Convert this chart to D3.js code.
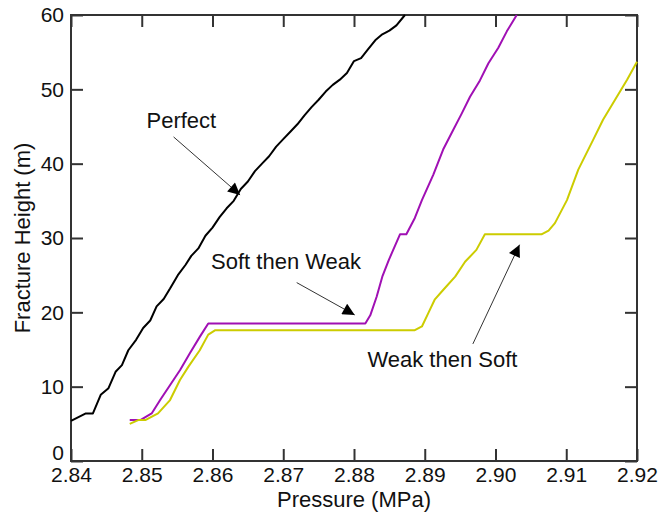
<!DOCTYPE html>
<html>
<head>
<meta charset="utf-8">
<script src="https://cdn.jsdelivr.net/npm/d3@7"></script>
<style>
  body { margin: 0; background: #fff; }
  text { font-family: Arial, "Liberation Sans", sans-serif; fill: #111; }
</style>
</head>
<body>
<div id="chart"></div>
<script>
// chart data
var xTicks = [2.84, 2.85, 2.86, 2.87, 2.88, 2.89, 2.90, 2.91, 2.92];
var yTicks = [0, 10, 20, 30, 40, 50, 60];

// Perfect (black)
var perfectP = [2.8400, 2.8421, 2.8431, 2.8442, 2.8453, 2.8463, 2.8472, 2.8481, 2.8492, 2.8502,
    2.8512, 2.8521, 2.8531, 2.8540, 2.8551, 2.8562, 2.8570, 2.8580, 2.8590, 2.8600,
    2.8610, 2.8620, 2.8630, 2.8640, 2.8650, 2.8660, 2.8670, 2.8680, 2.8690, 2.8700,
    2.8710, 2.8720, 2.8730, 2.8740, 2.8750, 2.8760, 2.8770, 2.8780, 2.8790, 2.8800,
    2.8810, 2.8820, 2.8830, 2.8840, 2.8850, 2.8860, 2.8872];
var perfectH = [5.4, 6.4, 6.4, 8.9, 9.8, 12.0, 12.9, 14.9, 16.3, 17.9,
    18.9, 20.8, 21.8, 23.2, 25.0, 26.4, 27.6, 28.6, 30.3, 31.4,
    32.8, 34.0, 35.0, 36.6, 37.6, 39.0, 40.0, 41.0, 42.3, 43.3,
    44.3, 45.3, 46.5, 47.6, 48.6, 49.7, 50.6, 51.3, 52.2, 53.8,
    54.2, 55.4, 56.6, 57.4, 57.9, 58.6, 60.0];

// Soft then Weak (magenta)
var softWeakP = [2.8483, 2.8498, 2.8514, 2.8526, 2.8542, 2.8554, 2.8568, 2.8582, 2.8594, 2.8816,
    2.8823, 2.8832, 2.8840, 2.8849, 2.8865, 2.8874, 2.8886, 2.8896, 2.8912, 2.8926,
    2.8940, 2.8952, 2.8964, 2.8978, 2.8990, 2.9004, 2.9016, 2.9030];
var softWeakH = [5.5, 5.5, 6.4, 8.2, 10.5, 12.2, 14.5, 16.7, 18.5, 18.5,
    19.6, 22.1, 24.8, 27.0, 30.5, 30.5, 32.7, 35.1, 38.5, 41.9,
    44.5, 46.7, 49.0, 51.2, 53.5, 55.6, 57.8, 60.0];

// Weak then Soft (yellow)
var weakSoftP = [2.8483, 2.8495, 2.8505, 2.8523, 2.8540, 2.8554, 2.8566, 2.8582, 2.8594, 2.8604,
    2.8886, 2.8896, 2.8905, 2.8914, 2.8926, 2.8943, 2.8957, 2.8973, 2.8985, 2.9065,
    2.9075, 2.9084, 2.9101, 2.9117, 2.9138, 2.9152, 2.9169, 2.9186, 2.9200];
var weakSoftH = [5.0, 5.5, 5.5, 6.4, 8.2, 10.9, 12.7, 14.9, 17.0, 17.6,
    17.6, 18.1, 19.9, 21.7, 23.0, 24.8, 26.8, 28.4, 30.5, 30.5,
    31.0, 32.0, 35.1, 39.2, 43.2, 45.9, 48.6, 51.3, 53.7];

// labels with arrow: text centre (MPa, m), arrow start, arrow tip
var labelNames = ["Perfect", "Soft then Weak", "Weak then Soft"];
var labelPos = [[2.8556, 44.8], [2.8704, 25.8], [2.8925, 12.7]];
var arrowFrom = [[2.8545, 43.6], [2.8719, 24.0], [2.8968, 15.75]];
var arrowTo = [[2.8639, 35.8], [2.8801, 19.65], [2.9034, 29.1]];

var svgWidth = 665;
var svgHeight = 516;
var margin = { top: 15, right: 28, bottom: 55, left: 71 };
var width = svgWidth - margin.left - margin.right;
var height = svgHeight - margin.top - margin.bottom;

var svg = d3.select("#chart")
    .append("svg")
    .attr("width", svgWidth)
    .attr("height", svgHeight);

var chartGroup = svg.append("g")
    .attr("transform", `translate(${margin.left}, ${margin.top})`);

var xScale = d3.scaleLinear().domain([2.84, 2.92]).range([0, width]);
var yScale = d3.scaleLinear().domain([0, 60]).range([height, 0]);

var axisColor = "#333";

// axes, ticks pointing inward on all four sides
var bottomAxis = chartGroup.append("g")
    .attr("transform", `translate(0, ${height})`)
    .call(d3.axisBottom(xScale).tickValues(xTicks).tickSize(-12).tickPadding(6).tickFormat(d3.format(".2f")));
var leftAxis = chartGroup.append("g")
    .call(d3.axisLeft(yScale).tickValues(yTicks).tickSize(-12).tickPadding(7).tickFormat(d3.format("d")));
chartGroup.append("g")
    .call(d3.axisTop(xScale).tickValues(xTicks).tickSize(-12).tickFormat(""));
chartGroup.append("g")
    .attr("transform", `translate(${width}, 0)`)
    .call(d3.axisRight(yScale).tickValues(yTicks).tickSize(-12).tickFormat(""));

chartGroup.selectAll(".domain").remove();
chartGroup.selectAll(".tick line").attr("stroke", axisColor).attr("stroke-width", 2);
chartGroup.selectAll(".tick text").attr("font-size", 21).attr("fill", "#111");
// the 0 label sits a little higher than its tick
leftAxis.selectAll(".tick text").filter(function (d) { return d === 0; }).attr("y", -8);

// plot frame
chartGroup.append("rect")
    .attr("width", width)
    .attr("height", height)
    .attr("fill", "none")
    .attr("stroke", axisColor)
    .attr("stroke-width", 2);

// curves
var line = d3.line()
    .x(function (d) { return xScale(d[0]); })
    .y(function (d) { return yScale(d[1]); });

var series = [
    { p: perfectP, h: perfectH, color: "#000000" },
    { p: softWeakP, h: softWeakH, color: "#a010b4" },
    { p: weakSoftP, h: weakSoftH, color: "#cccc00" }
];

series.forEach(function (s) {
    chartGroup.append("path")
        .datum(d3.zip(s.p, s.h))
        .attr("fill", "none")
        .attr("stroke", s.color)
        .attr("stroke-width", 2)
        .attr("stroke-linejoin", "round")
        .attr("d", line);
});

// annotation arrows
svg.append("defs").append("marker")
    .attr("id", "head")
    .attr("viewBox", "0 0 10 10")
    .attr("refX", 10)
    .attr("refY", 5)
    .attr("markerUnits", "userSpaceOnUse")
    .attr("markerWidth", 15)
    .attr("markerHeight", 12)
    .attr("orient", "auto")
    .append("path")
    .attr("d", "M0,0 L10,5 L0,10 Z")
    .attr("fill", "#000");

labelNames.forEach(function (name, i) {
    chartGroup.append("line")
        .attr("x1", xScale(arrowFrom[i][0]))
        .attr("y1", yScale(arrowFrom[i][1]))
        .attr("x2", xScale(arrowTo[i][0]))
        .attr("y2", yScale(arrowTo[i][1]))
        .attr("stroke", "#333")
        .attr("stroke-width", 1)
        .attr("marker-end", "url(#head)");

    chartGroup.append("text")
        .attr("x", xScale(labelPos[i][0]))
        .attr("y", yScale(labelPos[i][1]))
        .attr("text-anchor", "middle")
        .attr("font-size", 22)
        .text(name);
});

// axis titles
chartGroup.append("text")
    .attr("x", width / 2)
    .attr("y", height + 46)
    .attr("text-anchor", "middle")
    .attr("font-size", 22)
    .text("Pressure (MPa)");

chartGroup.append("text")
    .attr("transform", "rotate(-90)")
    .attr("x", -height / 2)
    .attr("y", -41)
    .attr("text-anchor", "middle")
    .attr("font-size", 22)
    .text("Fracture Height (m)");
</script>
</body>
</html>
